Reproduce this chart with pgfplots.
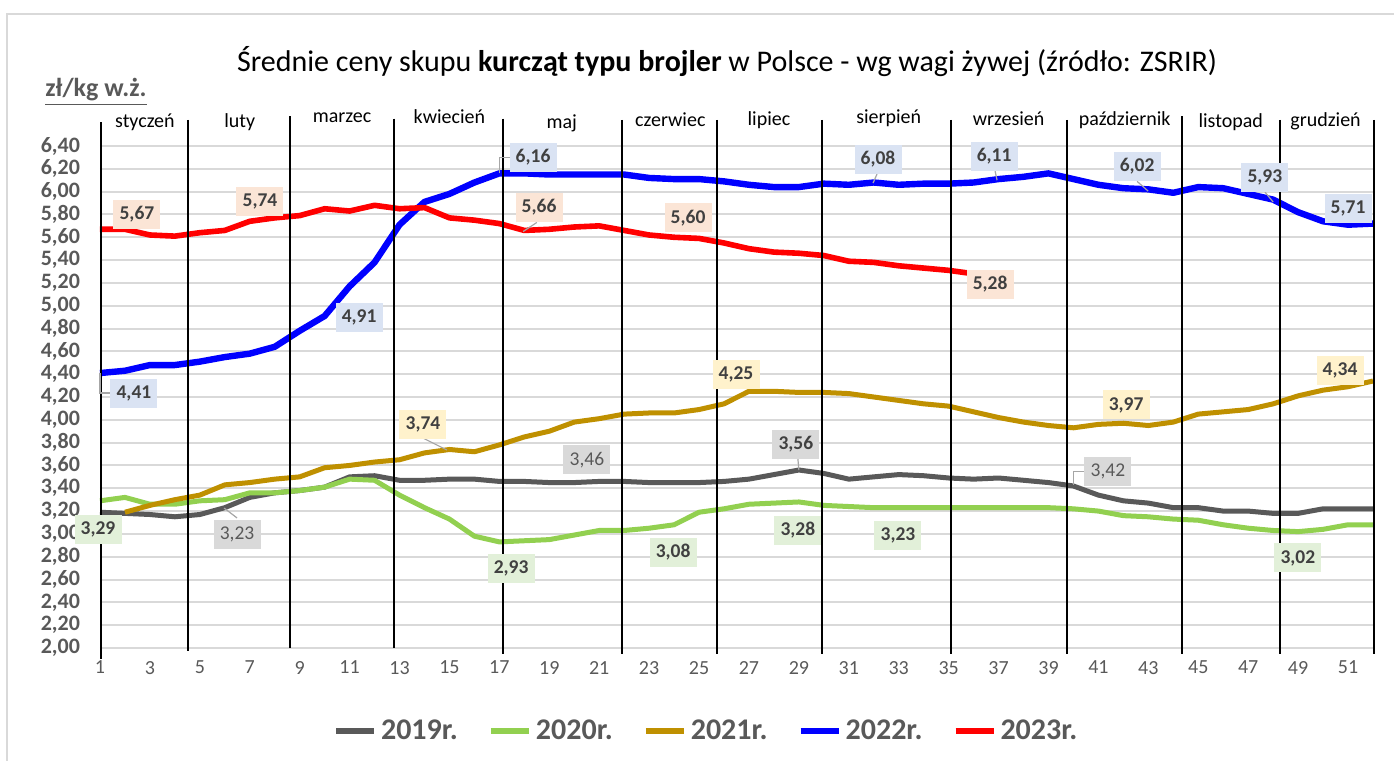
\documentclass[border=0pt]{standalone}
\usepackage{pgfplots}
\pgfplotsset{compat=1.18}
\usepackage{fontspec}
\setmainfont{Carlito}
\definecolor{c19}{HTML}{595959}
\definecolor{c20}{HTML}{92D050}
\definecolor{c21}{HTML}{BF9000}
\definecolor{c22}{HTML}{0000FF}
\definecolor{c23}{HTML}{FF0000}
\definecolor{txt}{HTML}{595959}
\definecolor{gridc}{HTML}{D9D9D9}
\definecolor{lb22}{HTML}{DAE3F3}
\definecolor{lb23}{HTML}{FBE5D6}
\definecolor{lb21}{HTML}{FFF2CC}
\definecolor{lb19}{HTML}{D9D9D9}
\definecolor{lb20}{HTML}{E2F0D9}
\definecolor{lead}{HTML}{A6A6A6}
\definecolor{lbtxt}{HTML}{404040}
\tikzset{
 lbl/.style={font=\fontsize{9.75}{11}\selectfont\bfseries, text=lbtxt, minimum width=23.5pt, minimum height=14.5pt, inner sep=0pt},
 lblr/.style={font=\fontsize{9.75}{11}\selectfont, text=txt, minimum width=23.5pt, minimum height=14.5pt, inner sep=0pt},
 ld/.style={lead, line width=0.6pt},
 mon/.style={black, line width=1pt},
 mlab/.style={font=\fontsize{10}{12}\selectfont, text=black},
}
\begin{document}
\begin{tikzpicture}
\path[use as bounding box] (0,0) rectangle (697pt,380.5pt);
\draw[gridc, line width=1pt] (3.5pt,0) -- (3.5pt,373.5pt) -- (700pt,373.5pt);
\node[font=\fontsize{15}{18}\selectfont] at (363.5pt,349.5pt) {Średnie ceny skupu \textbf{kurcząt typu brojler} w Polsce - wg wagi żywej (źródło: ZSRIR)};
\node[font=\fontsize{13}{15}\selectfont\bfseries, text=txt] at (48pt,334.5pt) {\underline{zł/kg w.ż.}};
\begin{axis}[
 at={(50pt,56.5pt)}, anchor=south west, scale only axis,
 width=636.5pt, height=251pt,
 xmin=1, xmax=52, ymin=2, ymax=6.4,
 clip=false,
 axis line style={draw=none},
 major tick length=0pt,
 xtick={1,3,...,51},
 ytick={2.0,2.2,2.4,2.6,2.8,3.0,3.2,3.4,3.6,3.8,4.0,4.2,4.4,4.6,4.8,5.0,5.2,5.4,5.6,5.8,6.0,6.2,6.4},
 ymajorgrids, major grid style={gridc, line width=1pt},
 /pgf/number format/.cd, use comma, assume math mode=true, /pgfplots/.cd,
 yticklabel style={font=\fontsize{11}{13}\selectfont\bfseries, text=txt, xshift=-6.5pt,
   /pgf/number format/.cd, fixed, fixed zerofill, precision=2, use comma},
 xticklabel style={font=\fontsize{10}{12}\selectfont, text=txt, yshift=-3pt},
 legend style={at={(0.477,-0.165)}, anchor=center, draw=none, fill=none,
   font=\fontsize{15}{18}\selectfont\bfseries, text=txt,
   /tikz/every even column/.append style={column sep=13pt}},
 legend columns=-1,
 legend image code/.code={\draw[#1, line width=3pt] (0pt,0pt) -- (19pt,0pt);},
]
\addplot[c19, line width=2.5pt, line join=round] coordinates {
(1,3.19)(2,3.18)(3,3.17)(4,3.15)(5,3.17)(6,3.23)(7,3.32)(8,3.36)(9,3.38)(10,3.41)
(11,3.50)(12,3.51)(13,3.47)(14,3.47)(15,3.48)(16,3.48)(17,3.46)(18,3.46)(19,3.45)(20,3.45)
(21,3.46)(22,3.46)(23,3.45)(24,3.45)(25,3.45)(26,3.46)(27,3.48)(28,3.52)(29,3.56)(30,3.53)
(31,3.48)(32,3.50)(33,3.52)(34,3.51)(35,3.49)(36,3.48)(37,3.49)(38,3.47)(39,3.45)(40,3.42)
(41,3.34)(42,3.29)(43,3.27)(44,3.23)(45,3.23)(46,3.20)(47,3.20)(48,3.18)(49,3.18)(50,3.22)
(51,3.22)(52,3.22)};
\addlegendentry{2019r.}
\addplot[c20, line width=2.5pt, line join=round] coordinates {
(1,3.29)(2,3.32)(3,3.26)(4,3.26)(5,3.29)(6,3.30)(7,3.36)(8,3.36)(9,3.38)(10,3.41)
(11,3.48)(12,3.47)(13,3.34)(14,3.23)(15,3.13)(16,2.98)(17,2.93)(18,2.94)(19,2.95)(20,2.99)
(21,3.03)(22,3.03)(23,3.05)(24,3.08)(25,3.19)(26,3.22)(27,3.26)(28,3.27)(29,3.28)(30,3.25)
(31,3.24)(32,3.23)(33,3.23)(34,3.23)(35,3.23)(36,3.23)(37,3.23)(38,3.23)(39,3.23)(40,3.22)
(41,3.20)(42,3.16)(43,3.15)(44,3.13)(45,3.12)(46,3.08)(47,3.05)(48,3.03)(49,3.02)(50,3.04)
(51,3.08)(52,3.08)};
\addlegendentry{2020r.}
\addplot[c21, line width=2.5pt, line join=round] coordinates {
(2,3.19)(3,3.25)(4,3.30)(5,3.34)(6,3.43)(7,3.45)(8,3.48)(9,3.50)(10,3.58)
(11,3.60)(12,3.63)(13,3.65)(14,3.71)(15,3.74)(16,3.72)(17,3.78)(18,3.85)(19,3.90)(20,3.98)
(21,4.01)(22,4.05)(23,4.06)(24,4.06)(25,4.09)(26,4.14)(27,4.25)(28,4.25)(29,4.24)(30,4.24)
(31,4.23)(32,4.20)(33,4.17)(34,4.14)(35,4.12)(36,4.07)(37,4.02)(38,3.98)(39,3.95)(40,3.93)
(41,3.96)(42,3.97)(43,3.95)(44,3.98)(45,4.05)(46,4.07)(47,4.09)(48,4.14)(49,4.21)(50,4.26)
(51,4.29)(52,4.34)};
\addlegendentry{2021r.}
\addplot[c22, line width=3.2pt, line join=round] coordinates {
(1,4.41)(2,4.43)(3,4.48)(4,4.48)(5,4.51)(6,4.55)(7,4.58)(8,4.64)(9,4.78)(10,4.91)
(11,5.17)(12,5.38)(13,5.71)(14,5.91)(15,5.98)(16,6.08)(17,6.16)(18,6.16)(19,6.15)(20,6.15)
(21,6.15)(22,6.15)(23,6.12)(24,6.11)(25,6.11)(26,6.09)(27,6.06)(28,6.04)(29,6.04)(30,6.07)
(31,6.06)(32,6.08)(33,6.06)(34,6.07)(35,6.07)(36,6.08)(37,6.11)(38,6.13)(39,6.16)(40,6.11)
(41,6.06)(42,6.03)(43,6.02)(44,5.99)(45,6.04)(46,6.03)(47,5.98)(48,5.93)(49,5.82)(50,5.74)
(51,5.71)(52,5.72)};
\addlegendentry{2022r.}
\addplot[c23, line width=2.8pt, line join=round] coordinates {
(1,5.67)(2,5.67)(3,5.62)(4,5.61)(5,5.64)(6,5.66)(7,5.74)(8,5.77)(9,5.79)(10,5.85)
(11,5.83)(12,5.88)(13,5.85)(14,5.86)(15,5.77)(16,5.75)(17,5.72)(18,5.66)(19,5.67)(20,5.69)
(21,5.70)(22,5.66)(23,5.62)(24,5.60)(25,5.59)(26,5.55)(27,5.50)(28,5.47)(29,5.46)(30,5.44)
(31,5.39)(32,5.38)(33,5.35)(34,5.33)(35,5.31)(36,5.28)};
\addlegendentry{2023r.}
% month separators
\draw[mon] (axis cs:1.04,6.61) -- (axis cs:1.04,1.9);
\draw[mon] (axis cs:4.53,6.63) -- (axis cs:4.53,1.97);
\draw[mon] (axis cs:8.61,6.66) -- (axis cs:8.61,2.0);
\draw[black, line width=0.6pt] (axis cs:12.78,6.64) -- (axis cs:12.78,2.0);
\draw[mon] (axis cs:17.15,6.64) -- (axis cs:17.15,1.95);
\draw[mon] (axis cs:21.91,6.63) -- (axis cs:21.91,1.95);
\draw[mon] (axis cs:25.72,6.63) -- (axis cs:25.72,1.95);
\draw[mon] (axis cs:29.93,6.63) -- (axis cs:29.93,1.95);
\draw[mon] (axis cs:35.09,6.63) -- (axis cs:35.09,1.95);
\draw[mon] (axis cs:39.74,6.63) -- (axis cs:39.74,1.95);
\draw[mon] (axis cs:44.35,6.66) -- (axis cs:44.35,1.95);
\draw[mon] (axis cs:48.28,6.63) -- (axis cs:48.28,1.95);
\draw[mon] (axis cs:52.04,6.63) -- (axis cs:52.04,1.95);
\node[mlab] at (axis cs:2.8,6.605) {styczeń};
\node[mlab] at (axis cs:6.6,6.605) {luty};
\node[mlab] at (axis cs:10.7,6.645) {marzec};
\node[mlab] at (axis cs:15.0,6.655) {kwiecień};
\node[mlab] at (axis cs:19.5,6.60) {maj};
\node[mlab] at (axis cs:23.85,6.63) {czerwiec};
\node[mlab] at (axis cs:27.8,6.625) {lipiec};
\node[mlab] at (axis cs:32.6,6.64) {sierpień};
\node[mlab] at (axis cs:37.4,6.635) {wrzesień};
\node[mlab] at (axis cs:42.05,6.625) {październik};
\node[mlab] at (axis cs:46.3,6.61) {listopad};
\node[mlab] at (axis cs:50.1,6.615) {grudzień};
% leaders
\draw[ld] (axis cs:17,6.16) -- (axis cs:17,6.30) -- (axis cs:17.43,6.30);
\draw[ld] (axis cs:1,4.41) -- (axis cs:1,4.235) -- (axis cs:1.40,4.235);
\draw[ld] (axis cs:17.95,5.65) -- (axis cs:18.5,5.73);
\draw[ld] (axis cs:14.9,3.735) -- (axis cs:13.94,3.84);
\draw[ld] (axis cs:5.97,3.227) -- (axis cs:6.49,3.14);
\draw[ld] (axis cs:29,3.56) -- (axis cs:28.96,3.656);
\draw[ld] (axis cs:31.97,6.075) -- (axis cs:32.13,6.154);
\draw[ld] (axis cs:36.94,6.10) -- (axis cs:36.86,6.18);
\draw[ld] (axis cs:42.99,6.005) -- (axis cs:42.55,6.09);
\draw[ld] (axis cs:48.0,5.909) -- (axis cs:47.67,5.997);
\draw[ld] (axis cs:40.0,3.43) -- (axis cs:40.0,3.55) -- (axis cs:40.46,3.55);
% data labels
\node[lbl, fill=lb23] at (axis cs:2.48,5.80) {5,67};
\node[lbl, fill=lb23] at (axis cs:7.41,5.91) {5,74};
\node[lbl, fill=lb23] at (axis cs:18.59,5.86) {5,66};
\node[lbl, fill=lb23] at (axis cs:24.56,5.769) {5,60};
\node[lbl, fill=lb23] at (axis cs:36.66,5.19) {5,28};
\node[lbl, fill=lb22] at (axis cs:18.35,6.30) {6,16};
\node[lbl, fill=lb22] at (axis cs:11.38,4.90) {4,91};
\node[lbl, fill=lb22] at (axis cs:2.36,4.235) {4,41};
\node[lbl, fill=lb22] at (axis cs:32.17,6.286) {6,08};
\node[lbl, fill=lb22] at (axis cs:36.82,6.312) {6,11};
\node[lbl, fill=lb22] at (axis cs:42.55,6.224) {6,02};
\node[lbl, fill=lb22] at (axis cs:47.67,6.128) {5,93};
\node[lbl, fill=lb22] at (axis cs:51.0,5.856) {5,71};
\node[lbl, fill=lb21] at (axis cs:13.94,3.963) {3,74};
\node[lbl, fill=lb21] at (axis cs:26.48,4.401) {4,25};
\node[lbl, fill=lb21] at (axis cs:42.11,4.13) {3,97};
\node[lbl, fill=lb21] at (axis cs:50.68,4.436) {4,34};
\node[lblr, fill=lb19] at (axis cs:6.49,2.999) {3,23};
\node[lblr, fill=lb19] at (axis cs:20.51,3.648) {3,46};
\node[lbl, fill=lb19] at (axis cs:28.88,3.788) {3,56};
\node[lblr, fill=lb19] at (axis cs:41.38,3.551) {3,42};
\node[lbl, fill=lb20] at (axis cs:0.92,3.043) {3,29};
\node[lbl, fill=lb20] at (axis cs:17.47,2.70) {2,93};
\node[lbl, fill=lb20] at (axis cs:23.96,2.841) {3,08};
\node[lbl, fill=lb20] at (axis cs:28.96,3.034) {3,28};
\node[lbl, fill=lb20] at (axis cs:32.97,2.99) {3,23};
\node[lbl, fill=lb20] at (axis cs:48.99,2.789) {3,02};
\end{axis}
\end{tikzpicture}
\end{document}
